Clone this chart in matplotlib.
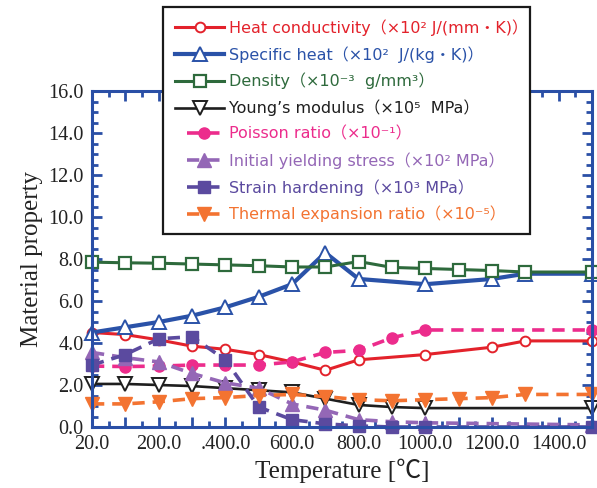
import matplotlib
matplotlib.use("Agg")
import matplotlib.pyplot as plt
from matplotlib.ticker import FixedLocator, MultipleLocator
from matplotlib.legend_handler import HandlerLine2D

# temperature steps (plotted as equally spaced categories)
temps = [20, 100, 200, 300, 400, 500, 600, 700, 800, 900, 1000, 1100, 1200, 1300, 1400, 1500]
xtick_labels = ["20.0", "", "200.0", "", ".400.0", "", "600.0", "", "800.0", "",
                "1000.0", "", "1200.0", "", "1400.0", ""]
ytick_values = [0, 2, 4, 6, 8, 10, 12, 14, 16]

heat_t = [20, 100, 200, 300, 400, 500, 600, 700, 800, 1000, 1200, 1300, 1500]
heat_v = [4.5, 4.4, 4.15, 3.85, 3.7, 3.45, 3.1, 2.7, 3.2, 3.45, 3.8, 4.1, 4.1]

spec_t = [20, 100, 200, 300, 400, 500, 600, 700, 800, 1000, 1200, 1300, 1500]
spec_v = [4.5, 4.75, 5.0, 5.3, 5.7, 6.2, 6.8, 8.3, 7.05, 6.8, 7.05, 7.3, 7.3]

dens_t = [20, 100, 200, 300, 400, 500, 600, 700, 800, 900, 1000, 1100, 1200, 1300, 1500]
dens_v = [7.85, 7.82, 7.8, 7.76, 7.72, 7.68, 7.62, 7.62, 7.88, 7.6, 7.55, 7.5, 7.45, 7.38, 7.38]

young_t = [20, 100, 200, 300, 400, 500, 600, 700, 800, 900, 1000, 1500]
young_v = [2.05, 2.05, 2.0, 1.95, 1.85, 1.75, 1.65, 1.35, 1.05, 0.95, 0.9, 0.9]

poisson_t = [20, 100, 200, 300, 400, 500, 600, 700, 800, 900, 1000, 1500]
poisson_v = [2.9, 2.88, 2.9, 2.95, 2.95, 2.95, 3.1, 3.55, 3.65, 4.25, 4.62, 4.62]

yield_t = [20, 100, 200, 300, 400, 500, 600, 700, 800, 900, 1000, 1500]
yield_v = [3.55, 3.3, 3.1, 2.55, 2.1, 1.85, 1.1, 0.8, 0.35, 0.25, 0.2, 0.1]

strain_t = [20, 100, 200, 300, 400, 500, 600, 700, 800, 900, 1000, 1500]
strain_v = [2.95, 3.45, 4.2, 4.3, 3.2, 0.95, 0.35, 0.15, 0.05, 0.0, 0.0, 0.0]

therm_t = [20, 100, 200, 300, 400, 500, 600, 700, 800, 900, 1000, 1100, 1200, 1300, 1500]
therm_v = [1.1, 1.1, 1.2, 1.35, 1.4, 1.5, 1.55, 1.45, 1.3, 1.25, 1.3, 1.35, 1.4, 1.55, 1.55]

labels = [
    "Heat conductivity（×10² J/(mm・K)）",
    "Specific heat（×10²  J/(kg・K)）",
    "Density（×10⁻³  g/mm³）",
    "Young’s modulus（×10⁵  MPa）",
    "Poisson ratio（×10⁻¹）",
    "Initial yielding stress（×10² MPa）",
    "Strain hardening（×10³ MPa）",
    "Thermal expansion ratio（×10⁻⁵）",
]

axis_blue = "#2A4FA6"
red = "#E3222B"
blue = "#2A52A8"
green = "#2E6A3C"
black = "#1E1E1E"
pink = "#EC2C8C"
lpurple = "#9467B6"
dpurple = "#5B4A9F"
orange = "#F37331"


def pos(ts):
    return [temps.index(t) for t in ts]


# dashed series get a shorter, indented legend handle like the original
class ShortHandler(HandlerLine2D):
    def get_xdata(self, legend, xdescent, ydescent, width, height, fontsize):
        x0 = -xdescent + 0.24 * width
        x1 = -xdescent + 0.95 * width
        return [x0, x1], [(x0 + x1) / 2]


fig = plt.figure(figsize=(5.97, 4.88), dpi=100)
ax = fig.add_axes([0.1541, 0.125, 0.8375, 0.6885])

dash = (0, (3.4, 2.2))
lines = []
lines += ax.plot(pos(heat_t), heat_v, color=red, lw=2.2, marker="o", ms=7, mfc="white",
                 mec=red, mew=1.4, clip_on=False, label=labels[0])
lines += ax.plot(pos(spec_t), spec_v, color=blue, lw=3.0, marker="^", ms=9.5, mfc="white",
                 mec=blue, mew=1.4, clip_on=False, label=labels[1])
lines += ax.plot(pos(dens_t), dens_v, color=green, lw=2.2, marker="s", ms=8, mfc="white",
                 mec=green, mew=1.6, clip_on=False, label=labels[2])
lines += ax.plot(pos(young_t), young_v, color=black, lw=1.9, marker="v", ms=9.5, mfc="white",
                 mec=black, mew=1.4, clip_on=False, label=labels[3])
lines += ax.plot(pos(poisson_t), poisson_v, color=pink, lw=2.6, ls=dash, marker="o",
                 ms=8, mfc=pink, mec=pink, clip_on=False, label=labels[4])
lines += ax.plot(pos(yield_t), yield_v, color=lpurple, lw=2.6, ls=dash, marker="^",
                 ms=9.5, mfc=lpurple, mec=lpurple, clip_on=False, label=labels[5])
lines += ax.plot(pos(strain_t), strain_v, color=dpurple, lw=2.6, ls=dash, marker="s",
                 ms=8.5, mfc=dpurple, mec=dpurple, clip_on=False, label=labels[6])
lines += ax.plot(pos(therm_t), therm_v, color=orange, lw=2.6, ls=dash, marker="v",
                 ms=10, mfc=orange, mec=orange, clip_on=False, label=labels[7])

ax.set_xlim(0, len(temps) - 1)
ax.set_ylim(0, 16)

ax.xaxis.set_major_locator(FixedLocator(range(len(temps))))
ax.set_xticklabels(xtick_labels)
ax.xaxis.set_minor_locator(MultipleLocator(0.5))
ax.set_yticks(ytick_values)
ax.set_yticklabels([f"{v:.1f}" for v in ytick_values])
ax.yaxis.set_minor_locator(MultipleLocator(0.5))

for s in ax.spines.values():
    s.set_color(axis_blue)
    s.set_linewidth(2.2)

ax.tick_params(which="both", direction="in", color=axis_blue, top=True, right=True)
ax.tick_params(which="major", length=7, width=2)
ax.tick_params(which="minor", length=4.5, width=2)
ax.tick_params(axis="both", labelsize=14.5, labelcolor="#222222", pad=6)
for t in ax.get_xticklabels() + ax.get_yticklabels():
    t.set_family("Liberation Serif")

ax.set_xlabel("Temperature [℃]", fontsize=18, family=["Liberation Serif", "Noto Sans CJK JP"],
              color="#222222", labelpad=3)
ax.set_ylabel("Material property", fontsize=18, family="Liberation Serif", color="#222222",
              labelpad=4)

hmap = {ln: ShortHandler() for ln in lines[4:]}
leg = fig.legend(handles=lines, loc="upper left",
                 bbox_to_anchor=(163 / 597, 1 - 235 / 488, (530 - 163) / 597, 228 / 488),
                 mode="expand", borderaxespad=0, fancybox=False, framealpha=1,
                 edgecolor="#1a1a1a", numpoints=1, handlelength=3.1, handletextpad=0.3,
                 labelspacing=0.64, borderpad=0.75, handler_map=hmap,
                 prop={"family": ["DejaVu Sans", "Noto Sans CJK JP"], "size": 11.5})
leg.get_frame().set_linewidth(1.6)
for text, line in zip(leg.get_texts(), lines):
    text.set_color(line.get_color())

fig.savefig("out.png", dpi=100)
